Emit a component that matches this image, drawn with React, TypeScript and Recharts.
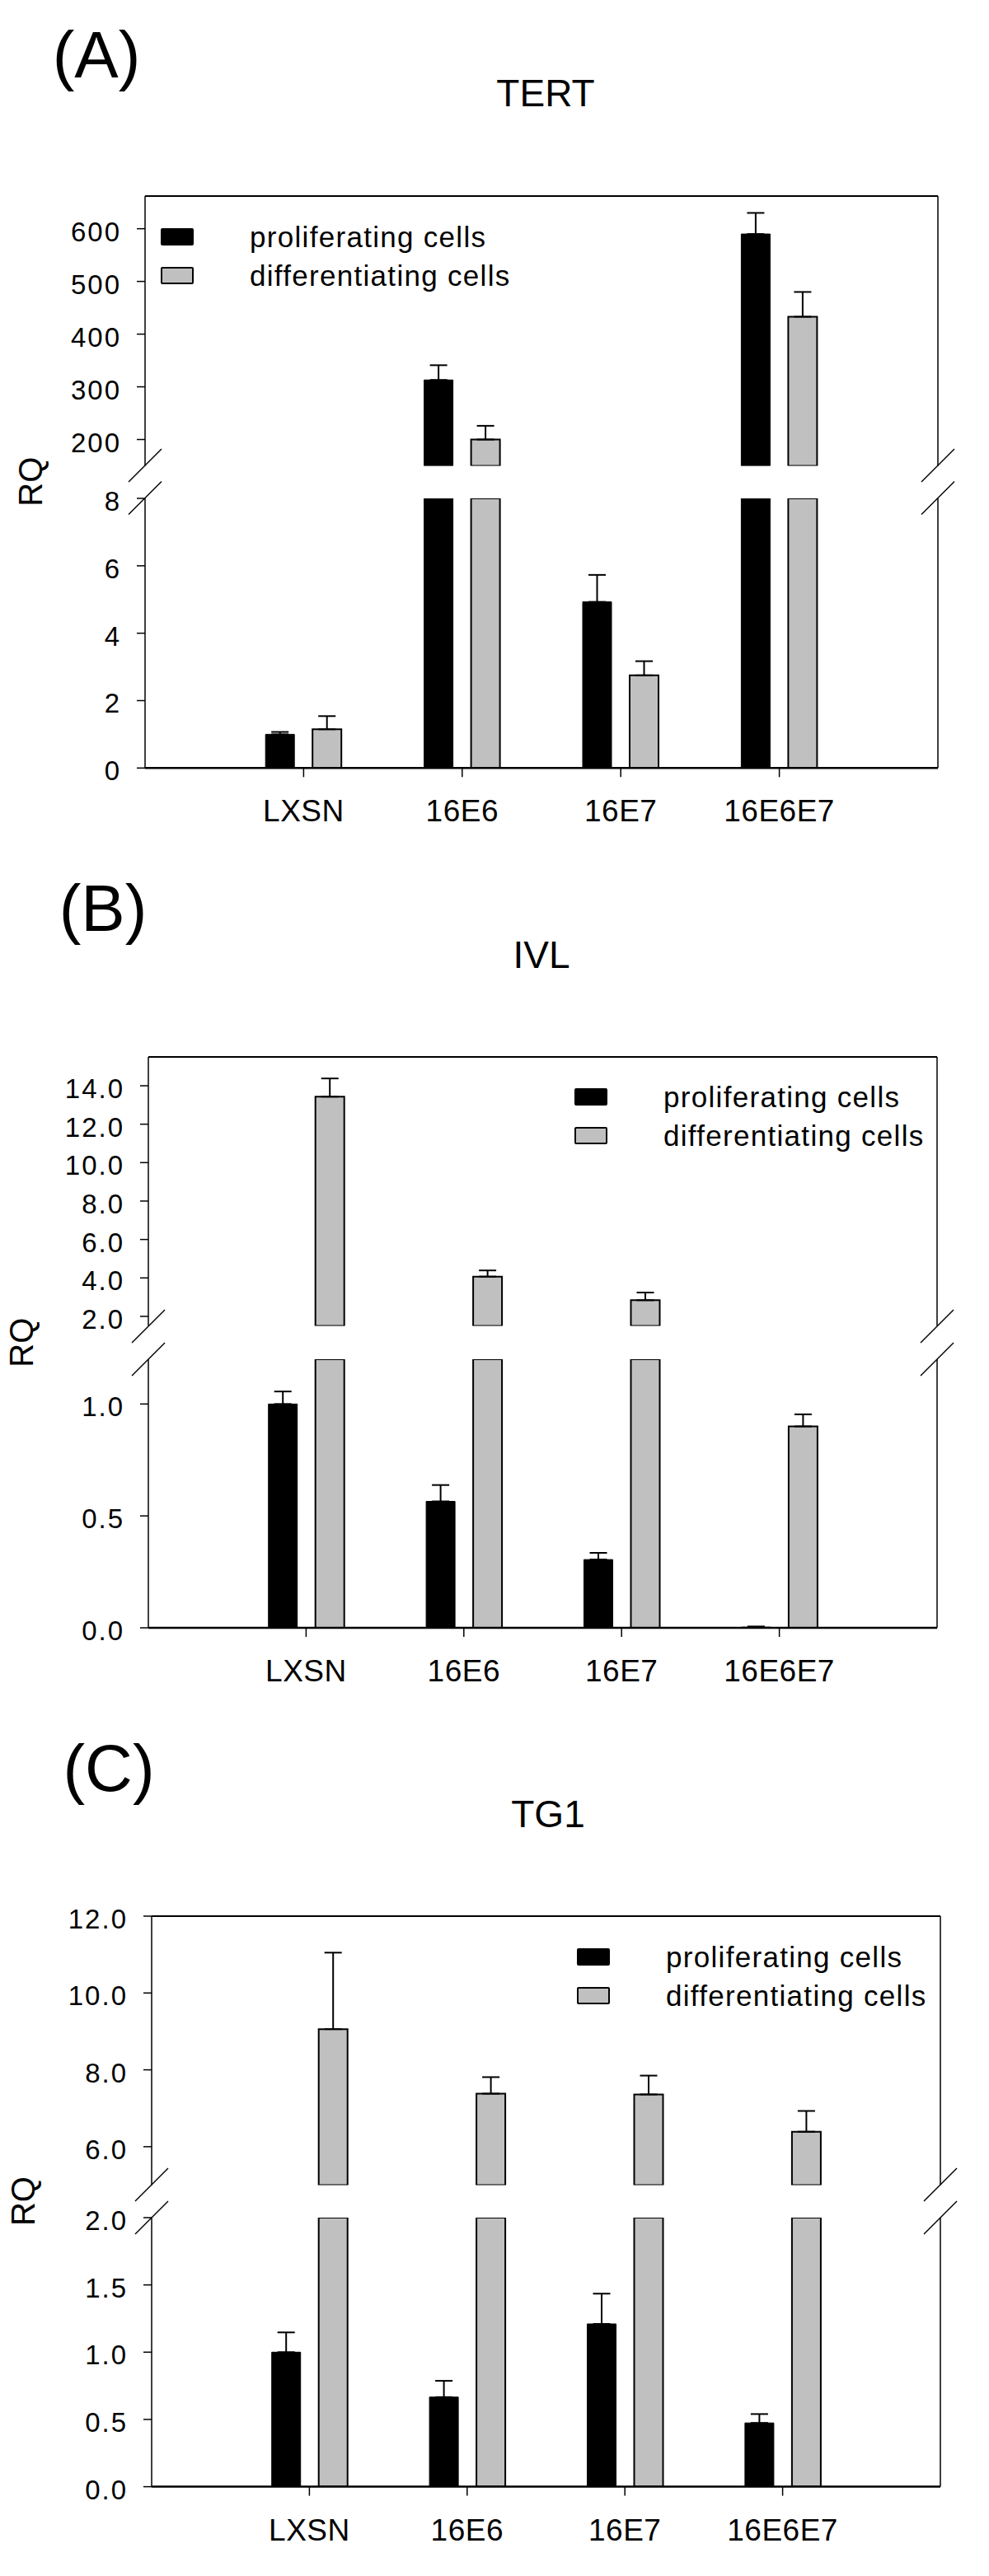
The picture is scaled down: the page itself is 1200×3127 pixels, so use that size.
import React from 'react';
import { BarChart, Bar, XAxis, YAxis, ErrorBar, ReferenceLine, Legend } from 'recharts';

const FONT = '"Liberation Sans", Arial, Helvetica, sans-serif';

const categories = ['LXSN', '16E6', '16E7', '16E6E7'];
const seriesNames = ['proliferating cells', 'differentiating cells'];

// (A) TERT
const tertProlif = [1.0, 313, 4.93, 590];
const tertProlifErr = [0.07, 28, 0.8, 40];
const tertDiff = [1.15, 200, 2.75, 433];
const tertDiffErr = [0.39, 26, 0.42, 47];
const tertUpperTicks = [200, 300, 400, 500, 600];
const tertLowerTicks = [0, 2, 4, 6, 8];

// (B) IVL
const ivlProlif = [1.0, 0.565, 0.305, 0.003];
const ivlProlifErr = [0.056, 0.073, 0.03, 0.003];
const ivlDiff = [13.43, 4.07, 2.84, 0.9];
const ivlDiffErr = [0.95, 0.32, 0.4, 0.054];
const ivlUpperTicks = [2, 4, 6, 8, 10, 12, 14];
const ivlLowerTicks = [0, 0.5, 1.0];

// (C) TG1
const tg1Prolif = [1.0, 0.666, 1.21, 0.474];
const tg1ProlifErr = [0.147, 0.121, 0.225, 0.066];
const tg1Diff = [9.06, 7.38, 7.36, 6.39];
const tg1DiffErr = [1.99, 0.43, 0.49, 0.54];
const tg1UpperTicks = [6, 8, 10, 12];
const tg1LowerTicks = [0, 0.5, 1.0, 1.5, 2.0];

const swatch: Record<string, string> = { p: '#000000', d: '#c0c0c0' };

const panels = [
    {
        letter: '(A)', letterX: 117, letterY: 94, title: 'TERT', titleX: 662, titleY: 129, rqX: 51,
        left: 176, right: 1138, top: 237.5, upperBottom: 565, lowerTop: 604.5, bottom: 931.8,
        upperDomain: [150, 662], lowerDomain: [0, 8], upperTicks: tertUpperTicks, lowerTicks: tertLowerTicks,
        decimals: 0, legendLeft: 195, legendTop: 263.5,
        prolif: tertProlif, prolifErr: tertProlifErr, diff: tertDiff, diffErr: tertDiffErr,
    },
    {
        letter: '(B)', letterX: 125, letterY: 1130, title: 'IVL', titleX: 657, titleY: 1175, rqX: 40,
        left: 180, right: 1137, top: 1283.4, upperBottom: 1610, lowerTop: 1650, bottom: 1976,
        upperDomain: [1.5, 15.5], lowerDomain: [0, 1.2], upperTicks: ivlUpperTicks, lowerTicks: ivlLowerTicks,
        decimals: 1, legendLeft: 697, legendTop: 1308.5,
        prolif: ivlProlif, prolifErr: ivlProlifErr, diff: ivlDiff, diffErr: ivlDiffErr,
    },
    {
        letter: '(C)', letterX: 132, letterY: 2174, title: 'TG1', titleX: 665, titleY: 2218, rqX: 42,
        left: 184, right: 1141, top: 2325.5, upperBottom: 2652, lowerTop: 2692, bottom: 3018.6,
        upperDomain: [5, 12], lowerDomain: [0, 2], upperTicks: tg1UpperTicks, lowerTicks: tg1LowerTicks,
        decimals: 1, legendLeft: 700, legendTop: 2351.5,
        prolif: tg1Prolif, prolifErr: tg1ProlifErr, diff: tg1Diff, diffErr: tg1DiffErr,
    },
];

// rows for one side of the axis break
function buildRows(p: any, upper: boolean) {
    const [min] = p.upperDomain;
    const max = p.lowerDomain[1];
    return categories.map((name, i) => {
        const pv = p.prolif[i];
        const dv = p.diff[i];
        if (upper) {
            return {
                name,
                p: pv > min ? pv : null,
                pe: pv > min ? [0, p.prolifErr[i]] : null,
                d: dv > min ? dv : null,
                de: dv > min ? [0, p.diffErr[i]] : null,
            };
        }
        return {
            name,
            p: Math.min(pv, max),
            pe: pv <= max ? [0, p.prolifErr[i]] : null,
            d: Math.min(dv, max),
            de: dv <= max ? [0, p.diffErr[i]] : null,
        };
    });
}

const YTick = (props: any) => {
    const { x, y, payload, decimals } = props;
    return (
        <text x={x} y={y} dy={15} textAnchor="end" fontSize={33} fontFamily={FONT} letterSpacing={2} fill="#000">
            {Number(payload.value).toFixed(decimals)}
        </text>
    );
};

const XTick = (props: any) => {
    const { x, y, payload } = props;
    return (
        <text x={x} y={y} dy={26} textAnchor="middle" fontSize={37} fontFamily={FONT} letterSpacing={0.5} fill="#000">
            {payload.value}
        </text>
    );
};

const renderLegend = (props: any) => {
    const items = [...(props.payload || [])].sort(
        (a: any, b: any) => seriesNames.indexOf(a.value) - seriesNames.indexOf(b.value),
    );
    return (
        <div>
            {items.map((entry: any, i: number) => (
                <div key={i} style={{ display: 'flex', alignItems: 'center', height: 47 }}>
                    <div
                        style={{
                            width: 40, height: 21, boxSizing: 'border-box', marginRight: 68,
                            background: swatch[entry.dataKey] ?? '#000', border: '2px solid #000', borderRadius: 2,
                        }}
                    />
                    <span style={{ fontFamily: FONT, fontSize: 35, letterSpacing: 1.3, lineHeight: '47px', color: '#000', whiteSpace: 'nowrap' }}>
                        {entry.value}
                    </span>
                </div>
            ))}
        </div>
    );
};

function Segment({ p, upper }: { p: any; upper: boolean }) {
    const YW = 100;
    const mt = 40;
    const mb = upper ? 20 : 0;
    const xh = upper ? 0 : 90;
    const segTop = upper ? p.top : p.lowerTop;
    const segBottom = upper ? p.upperBottom : p.bottom;
    const height = segBottom - segTop + mt + mb + xh;
    const pad = (p.right - p.left) / 10;
    const domain = upper ? p.upperDomain : p.lowerDomain;
    const chartTop = segTop - mt;

    return (
        <div style={{ position: 'absolute', left: 0, top: chartTop }}>
            <BarChart
                width={1200}
                height={height}
                data={buildRows(p, upper)}
                margin={{ top: mt, bottom: mb, left: p.left - YW, right: 1200 - p.right - 2 }}
                barGap={22}
            >
                <XAxis
                    dataKey="name"
                    hide={upper}
                    height={xh}
                    padding={{ left: pad, right: pad }}
                    interval={0}
                    axisLine={{ stroke: '#000', strokeWidth: 2.5 }}
                    tickLine={{ stroke: '#000', strokeWidth: 1.5 }}
                    tickSize={11}
                    tickMargin={28}
                    tick={<XTick />}
                />
                <YAxis
                    type="number"
                    width={YW}
                    domain={domain}
                    ticks={upper ? p.upperTicks : p.lowerTicks}
                    allowDataOverflow
                    interval={0}
                    axisLine={{ stroke: '#000', strokeWidth: 1.5 }}
                    tickLine={{ stroke: '#000', strokeWidth: 1.5 }}
                    tickSize={10}
                    tickMargin={19}
                    tick={<YTick decimals={p.decimals} />}
                />
                <YAxis
                    yAxisId="r"
                    orientation="right"
                    type="number"
                    width={2}
                    domain={domain}
                    allowDataOverflow
                    tick={false}
                    tickLine={false}
                    axisLine={{ stroke: '#000', strokeWidth: 1.5 }}
                />
                {upper && <ReferenceLine y={domain[1]} stroke="#000" strokeWidth={2} />}
                {upper && (
                    <Legend
                        layout="vertical"
                        align="center"
                        verticalAlign="middle"
                        content={renderLegend}
                        wrapperStyle={{ left: p.legendLeft, top: p.legendTop - chartTop, width: 'auto' }}
                    />
                )}
                <Bar dataKey="p" name={seriesNames[0]} barSize={35} fill="#000" stroke="#000" strokeWidth={1} isAnimationActive={false}>
                    <ErrorBar dataKey="pe" width={10.5} stroke="#000" strokeWidth={2} direction="y" />
                </Bar>
                <Bar dataKey="d" name={seriesNames[1]} barSize={35} fill="#c0c0c0" stroke="#000" strokeWidth={2} isAnimationActive={false}>
                    <ErrorBar dataKey="de" width={10.5} stroke="#000" strokeWidth={2} direction="y" />
                </Bar>
            </BarChart>
        </div>
    );
}

function Decorations() {
    return (
        <svg width={1200} height={3127} style={{ position: 'absolute', left: 0, top: 0, pointerEvents: 'none' }}>
            {panels.map((p) => {
                const mid = (p.top + p.bottom) / 2;
                const slashes = [p.left, p.right].flatMap((x) =>
                    [p.upperBottom, p.lowerTop].map((y) => ({ x, y })),
                );
                return (
                    <g key={p.letter}>
                        <text x={p.letterX} y={p.letterY} textAnchor="middle" fontSize={80} fontFamily={FONT} fill="#000">
                            {p.letter}
                        </text>
                        <text x={p.titleX} y={p.titleY} textAnchor="middle" fontSize={46} fontFamily={FONT} fill="#000">
                            {p.title}
                        </text>
                        <text
                            x={p.rqX}
                            y={mid}
                            textAnchor="middle"
                            fontSize={40}
                            fontFamily={FONT}
                            fill="#000"
                            transform={`rotate(-90 ${p.rqX} ${mid})`}
                        >
                            RQ
                        </text>
                        {slashes.map((s, i) => (
                            <line key={i} x1={s.x - 20} y1={s.y + 20} x2={s.x + 20} y2={s.y - 20} stroke="#000" strokeWidth={1.5} />
                        ))}
                    </g>
                );
            })}
        </svg>
    );
}

export default function App() {
    return (
        <div style={{ position: 'absolute', left: 0, top: 0, width: 1200, height: 3127, background: '#fff' }}>
            {panels.map((p) => (
                <React.Fragment key={p.letter}>
                    <Segment p={p} upper />
                    <Segment p={p} upper={false} />
                </React.Fragment>
            ))}
            <Decorations />
        </div>
    );
}
